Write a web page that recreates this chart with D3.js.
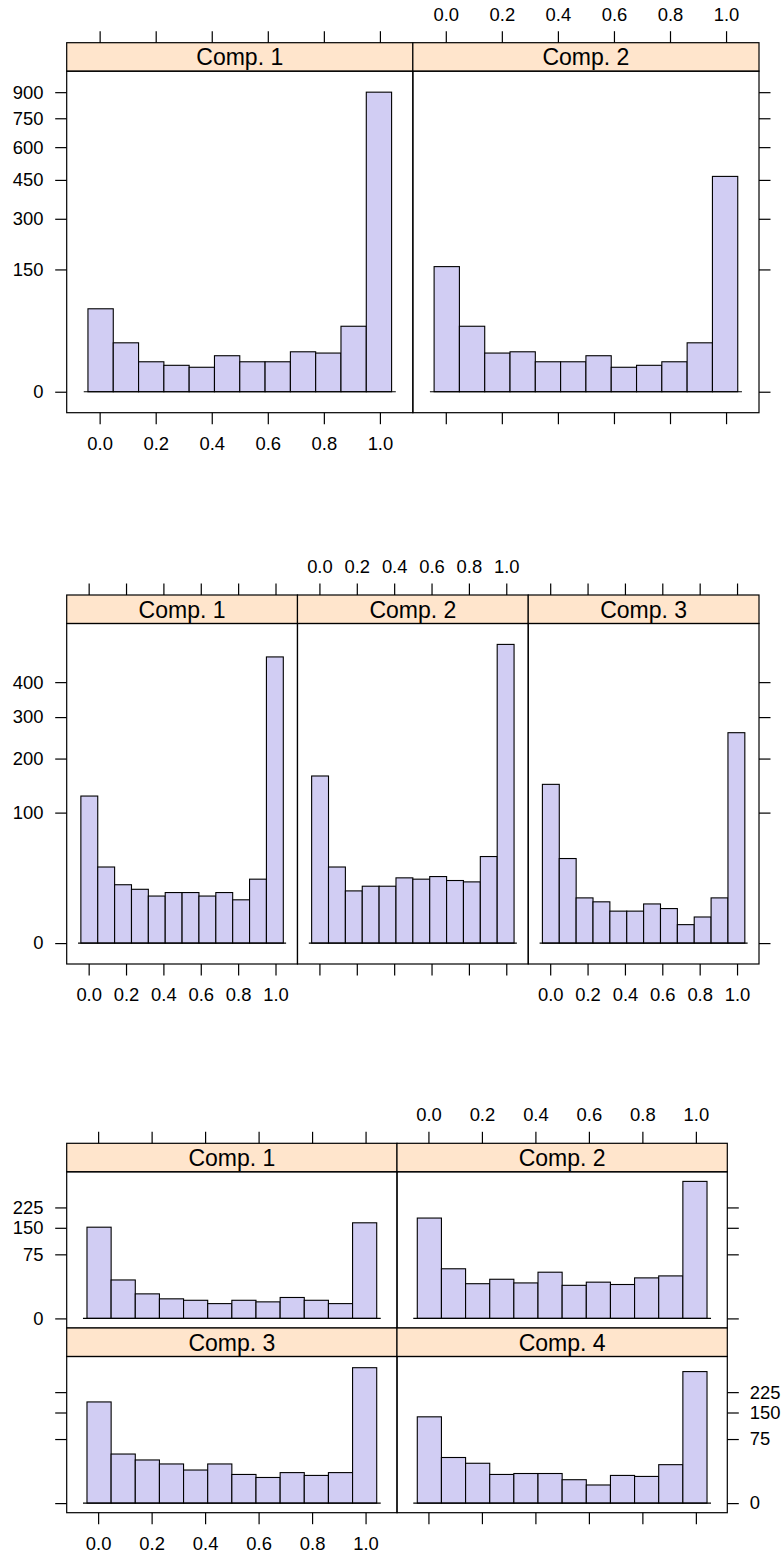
<!DOCTYPE html>
<html>
<head>
<meta charset="utf-8">
<script src="https://cdn.jsdelivr.net/npm/d3@7"></script>
<style>
body { margin: 0; background: #fff; }
svg text { font-family: "Liberation Sans", Arial, Helvetica, sans-serif; fill: #000; }
</style>
</head>
<body>
<svg></svg>
<script>
// bin edges shared by every histogram (12 bins)
let binEdges = [-0.0417, 0.0486, 0.1389, 0.2292, 0.3194, 0.4097, 0.5, 0.5903, 0.6806, 0.7708, 0.8611, 0.9514, 1.0417]
let xTicks = [0, 0.2, 0.4, 0.6, 0.8, 1.0]

// layout 1: two components
let titlesA = ["Comp. 1", "Comp. 2"]
let countsA1 = [69, 24, 9, 7, 6, 13, 9, 9, 16, 15, 43, 900]
let countsA2 = [157, 43, 15, 16, 9, 9, 13, 6, 7, 9, 24, 465]
let yTicksA = [0, 150, 300, 450, 600, 750, 900]

// layout 2: three components
let titlesB = ["Comp. 1", "Comp. 2", "Comp. 3"]
let countsB1 = [127, 34, 20, 17, 13, 15, 15, 13, 15, 11, 24, 481]
let countsB2 = [164, 34, 16, 19, 19, 25, 24, 26, 23, 22, 44, 524]
let countsB3 = [148, 42, 12, 10, 6, 6, 9, 7, 2, 4, 12, 260]
let yTicksB = [0, 100, 200, 300, 400]

// layout 3: four components
let titlesC = ["Comp. 1", "Comp. 2", "Comp. 3", "Comp. 4"]
let countsC1 = [152, 27, 11, 7, 6, 4, 6, 5, 8, 6, 4, 167]
let countsC2 = [184, 45, 22, 28, 23, 39, 20, 24, 21, 30, 33, 343]
let countsC3 = [187, 44, 34, 28, 20, 28, 15, 12, 17, 14, 17, 335]
let countsC4 = [136, 38, 29, 15, 16, 16, 10, 6, 14, 13, 27, 316]
let yTicksC = [0, 75, 150, 225]

let width = 784
let height = 1557
let stripHeight = 28.5
let tickLen = 11.5
let fontSize = "18.4px"
let barFill = "#d1cdf3"
let stripFill = "#ffe5cc"

let svg = d3.select("svg")
            .attr("width", width)
            .attr("height", height)

let styleAxis = (g) => {
    g.select(".domain").remove()
    g.attr("font-size", null).attr("font-family", null)
    g.selectAll(".tick line")
     .attr("stroke", "#000")
     .attr("stroke-width", 1.2)
    g.selectAll(".tick text")
     .style("font-size", fontSize)
}

let drawLayout = (opts) => {
    let { titles, series, yTicks, left, right, top, bottom, cols, rows } = opts
    let panelW = (right - left) / cols
    let rowH = (bottom - top) / rows

    let lo = binEdges[0]
    let hi = binEdges[binEdges.length - 1]
    let xExt = 0.07 * (hi - lo)

    let maxRoot = Math.sqrt(d3.max(series, (s) => d3.max(s)))
    let yLo = -Math.pow(0.07 * maxRoot, 2)
    let yHi = Math.pow(1.07 * maxRoot, 2)

    series.forEach((counts, i) => {
        let col = i % cols
        let row = Math.floor(i / cols)
        let x0 = left + col * panelW
        let y0 = top + row * rowH
        let panelTop = y0 + stripHeight
        let panelBottom = y0 + rowH

        let xScale = d3.scaleLinear()
                       .domain([lo - xExt, hi + xExt])
                       .range([x0, x0 + panelW])

        let yScale = d3.scaleSqrt()
                       .domain([yLo, yHi])
                       .range([panelBottom, panelTop])

        let g = svg.append("g")

        // strip
        g.append("rect")
         .attr("x", x0)
         .attr("y", y0)
         .attr("width", panelW)
         .attr("height", stripHeight)
         .attr("fill", stripFill)
         .attr("stroke", "#000")
         .attr("stroke-width", 1.2)

        g.append("text")
         .attr("x", x0 + panelW / 2)
         .attr("y", y0 + stripHeight / 2)
         .attr("dy", "0.36em")
         .attr("text-anchor", "middle")
         .style("font-size", "23px")
         .text(titles[i])

        // bars
        g.selectAll("rect.bar")
         .data(counts)
         .enter()
         .append("rect")
         .attr("class", "bar")
         .attr("x", (d, j) => xScale(binEdges[j]))
         .attr("width", (d, j) => xScale(binEdges[j + 1]) - xScale(binEdges[j]))
         .attr("y", (d) => yScale(d))
         .attr("height", (d) => yScale(0) - yScale(d))
         .attr("fill", barFill)
         .attr("stroke", "#000")
         .attr("stroke-width", 1.1)

        // base line under the bars
        g.append("line")
         .attr("x1", xScale(lo - 0.015))
         .attr("x2", xScale(hi + 0.015))
         .attr("y1", yScale(0))
         .attr("y2", yScale(0))
         .attr("stroke", "#000")
         .attr("stroke-width", 1.2)

        // panel border
        g.append("rect")
         .attr("x", x0)
         .attr("y", panelTop)
         .attr("width", panelW)
         .attr("height", panelBottom - panelTop)
         .attr("fill", "none")
         .attr("stroke", "#000")
         .attr("stroke-width", 1.2)

        let fmt = d3.format(".1f")

        if (row == 0) {
            let axis = d3.axisTop(xScale).tickValues(xTicks).tickSize(tickLen).tickPadding(10.5)
                         .tickFormat(col % 2 == 1 ? fmt : "")
            g.append("g")
             .attr("transform", "translate(0," + y0 + ")")
             .call(axis)
             .call(styleAxis)
        }
        if (row == rows - 1) {
            let axis = d3.axisBottom(xScale).tickValues(xTicks).tickSize(tickLen).tickPadding(12.5)
                         .tickFormat(col % 2 == 0 ? fmt : "")
            g.append("g")
             .attr("transform", "translate(0," + panelBottom + ")")
             .call(axis)
             .call(styleAxis)
        }
        if (col == 0) {
            let axis = d3.axisLeft(yScale).tickValues(yTicks).tickSize(tickLen).tickPadding(11.7)
                         .tickFormat(row % 2 == 0 ? d3.format("d") : "")
            g.append("g")
             .attr("transform", "translate(" + x0 + ",0)")
             .call(axis)
             .call(styleAxis)
        }
        if (col == cols - 1) {
            let axis = d3.axisRight(yScale).tickValues(yTicks).tickSize(tickLen).tickPadding(11)
                         .tickFormat(row % 2 == 1 ? d3.format("d") : "")
            g.append("g")
             .attr("transform", "translate(" + (x0 + panelW) + ",0)")
             .call(axis)
             .call(styleAxis)
        }
    })
}

drawLayout({
    titles: titlesA,
    series: [countsA1, countsA2],
    yTicks: yTicksA,
    left: 66.7, right: 759, top: 42.7, bottom: 412.7,
    cols: 2, rows: 1
})

drawLayout({
    titles: titlesB,
    series: [countsB1, countsB2, countsB3],
    yTicks: yTicksB,
    left: 66.7, right: 759, top: 595, bottom: 964,
    cols: 3, rows: 1
})

drawLayout({
    titles: titlesC,
    series: [countsC1, countsC2, countsC3, countsC4],
    yTicks: yTicksC,
    left: 66.7, right: 727.3, top: 1143.3, bottom: 1512.7,
    cols: 2, rows: 2
})
</script>
</body>
</html>
